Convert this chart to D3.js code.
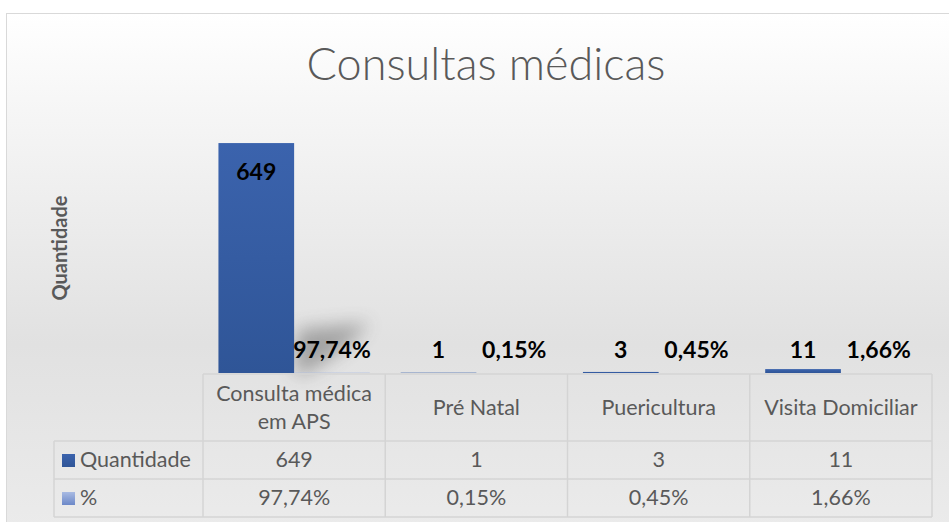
<!DOCTYPE html>
<head>
  <meta charset="utf-8">
  <title>Consultas médicas</title>
  <style>
    body { margin: 0; background: #fff; }
    text { font-family: Lato, "Open Sans", sans-serif; }
  </style>
</head>
<body>
  <script src="https://cdnjs.cloudflare.com/ajax/libs/d3/7.8.5/d3.min.js"></script>
  <script>
  // chart data
  const categories = ["Consulta médica em APS", "Pré Natal", "Puericultura", "Visita Domiciliar"];
  const headerLines = [["Consulta médica", "em APS"], ["Pré Natal"], ["Puericultura"], ["Visita Domiciliar"]];
  const series = ["Quantidade", "%"];
  const quantidade = [649, 1, 3, 11];
  const percent = [0.9774, 0.0015, 0.0045, 0.0166];
  const percentLabels = ["97,74%", "0,15%", "0,45%", "1,66%"];

  const W = 949, H = 522;
  const svg = d3.select("body").append("svg")
    .attr("width", W).attr("height", H);

  const defs = svg.append("defs");
  const bg = defs.append("linearGradient").attr("id", "bg")
    .attr("x1", 0).attr("y1", 0).attr("x2", 0).attr("y2", 1);
  bg.append("stop").attr("offset", "0%").attr("stop-color", "#ffffff");
  bg.append("stop").attr("offset", "18%").attr("stop-color", "#f6f6f6");
  bg.append("stop").attr("offset", "62%").attr("stop-color", "#e1e1e1");
  bg.append("stop").attr("offset", "100%").attr("stop-color", "#ececec");

  const barGrad = defs.append("linearGradient").attr("id", "barGrad")
    .attr("x1", 0).attr("y1", 0).attr("x2", 0).attr("y2", 1);
  barGrad.append("stop").attr("offset", "0%").attr("stop-color", "#3b63ad");
  barGrad.append("stop").attr("offset", "100%").attr("stop-color", "#2f5597");

  const pctGrad = defs.append("linearGradient").attr("id", "pctGrad")
    .attr("x1", 0).attr("y1", 0).attr("x2", 0).attr("y2", 1);
  pctGrad.append("stop").attr("offset", "0%").attr("stop-color", "#a9bbe3");
  pctGrad.append("stop").attr("offset", "100%").attr("stop-color", "#6c88c8");

  defs.append("filter").attr("id", "blur")
    .attr("x", "-80%").attr("y", "-80%").attr("width", "260%").attr("height", "260%")
    .append("feGaussianBlur").attr("stdDeviation", 9);

  // chart frame
  svg.append("rect")
    .attr("x", 6.5).attr("y", 13.5).attr("width", W + 10).attr("height", H + 10)
    .attr("fill", "url(#bg)").attr("stroke", "#d9d9d9");

  svg.append("text")
    .attr("x", 486).attr("y", 80)
    .attr("text-anchor", "middle")
    .attr("font-size", 45).attr("font-weight", 300)
    .attr("fill", "#595959")
    .text("Consultas médicas");

  // scales
  const x = d3.scaleBand().domain(categories).range([203, 932]);
  const xs = d3.scaleBand().domain(series).range([0, x.bandwidth()]).paddingOuter(0.204);
  const y = d3.scaleLinear().domain([0, 700]).range([373, 125]);

  // soft shadow near first % label
  const s0 = x(categories[0]) + xs("%");
  svg.append("path")
    .attr("d", `M${s0},${y(0)} L${s0 + 4},${y(0) - 44} L${s0 + xs.bandwidth()},${y(0) - 50} L${s0 + xs.bandwidth() - 24},${y(0) - 26} L${s0 + 14},${y(0)} Z`)
    .attr("fill", "#444").attr("opacity", 0.4)
    .attr("filter", "url(#blur)");

  // bars
  svg.append("g").selectAll("rect")
    .data(categories)
    .join("rect")
    .attr("x", d => x(d) + xs("Quantidade"))
    .attr("width", xs.bandwidth())
    .attr("y", (d, i) => y(quantidade[i]))
    .attr("height", (d, i) => y(0) - y(quantidade[i]))
    .attr("fill", "url(#barGrad)");

  svg.append("g").selectAll("rect")
    .data(categories)
    .join("rect")
    .attr("x", d => x(d) + xs("%"))
    .attr("width", xs.bandwidth())
    .attr("y", (d, i) => y(percent[i]))
    .attr("height", (d, i) => y(0) - y(percent[i]))
    .attr("fill", "url(#pctGrad)");

  // data labels
  svg.append("g").selectAll("text")
    .data(categories)
    .join("text")
    .attr("x", d => x(d) + xs("Quantidade") + xs.bandwidth() / 2)
    .attr("y", (d, i) => i === 0 ? y(quantidade[i]) + 37 : 358)
    .attr("text-anchor", "middle")
    .attr("font-size", 23).attr("font-weight", 700)
    .attr("fill", "#000")
    .text((d, i) => quantidade[i]);

  svg.append("g").selectAll("text")
    .data(categories)
    .join("text")
    .attr("x", d => x(d) + xs("%") + xs.bandwidth() / 2)
    .attr("y", 358)
    .attr("text-anchor", "middle")
    .attr("font-size", 23).attr("font-weight", 700)
    .attr("fill", "#000")
    .text((d, i) => percentLabels[i]);

  // y axis title
  svg.append("text")
    .attr("transform", "translate(67,248) rotate(-90)")
    .attr("text-anchor", "middle")
    .attr("font-size", 20).attr("font-weight", 700)
    .attr("fill", "#595959")
    .text("Quantidade");

  // data table
  const rowTop = 374, rowH = 441, rowQ = 479, rowP = 517, tableLeft = 54;
  const grid = svg.append("g").attr("stroke", "#d4d4d4").attr("stroke-width", 1.5);
  grid.append("line").attr("x1", x.range()[0]).attr("x2", x.range()[1]).attr("y1", rowTop).attr("y2", rowTop);
  [rowH, rowQ, rowP].forEach(v => grid.append("line")
    .attr("x1", tableLeft).attr("x2", x.range()[1]).attr("y1", v).attr("y2", v));
  categories.concat([null]).forEach(c => {
    const xv = c ? x(c) : x.range()[1];
    grid.append("line").attr("x1", xv).attr("x2", xv).attr("y1", rowTop).attr("y2", rowP);
  });
  grid.append("line").attr("x1", tableLeft).attr("x2", tableLeft).attr("y1", rowH).attr("y2", rowP);

  const head = svg.append("g").attr("font-size", 21.5).attr("fill", "#595959").attr("text-anchor", "middle");
  categories.forEach((c, i) => {
    const lines = headerLines[i];
    const cy = (rowTop + rowH) / 2;
    lines.forEach((ln, j) => {
      head.append("text")
        .attr("x", x(c) + x.bandwidth() / 2)
        .attr("y", cy + 7 + (j - (lines.length - 1) / 2) * 28)
        .text(ln);
    });
    head.append("text").attr("x", x(c) + x.bandwidth() / 2).attr("y", (rowH + rowQ) / 2 + 7).text(quantidade[i]);
    head.append("text").attr("x", x(c) + x.bandwidth() / 2).attr("y", (rowQ + rowP) / 2 + 7).text(percentLabels[i]);
  });

  const legendRows = [{ name: "Quantidade", fill: "url(#barGrad)", y0: rowH, y1: rowQ },
                      { name: "%", fill: "url(#pctGrad)", y0: rowQ, y1: rowP }];
  legendRows.forEach(r => {
    const cy = (r.y0 + r.y1) / 2;
    svg.append("rect").attr("x", 62).attr("y", cy - 6).attr("width", 13).attr("height", 13).attr("fill", r.fill);
    svg.append("text").attr("x", 80).attr("y", cy + 7)
      .attr("font-size", 21.5).attr("fill", "#595959").text(r.name);
  });
  </script>
</body>
</html>
